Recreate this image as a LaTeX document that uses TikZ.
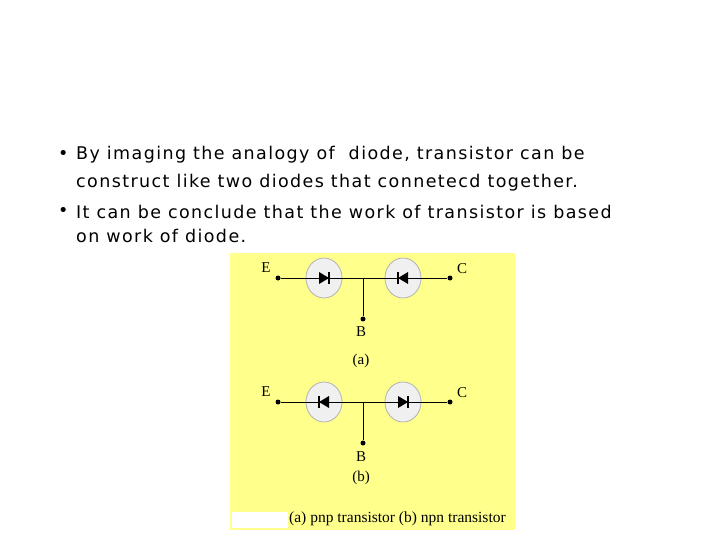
\documentclass[tikz,border=0pt]{standalone}
\usepackage{fontspec}
\usetikzlibrary{shapes.geometric}
\setmainfont{DejaVu Sans}[LetterSpace=8]
\newfontfamily\serf{Liberation Serif}
\begin{document}
\begin{tikzpicture}[x=1pt,y=-1pt,
  txt/.style={anchor=west,inner sep=0pt,font=\fontsize{17.5}{20}\selectfont},
  lbl/.style={inner sep=0pt,font=\serf\fontsize{15}{17}\selectfont},
  bubble/.style={ellipse,draw=gray!60,fill=gray!12,line width=0.8pt,minimum width=36pt,minimum height=40pt,inner sep=0pt},
  dot/.style={circle,fill=black,inner sep=0pt,minimum size=5pt}]
\useasboundingbox (0,0) rectangle (720,540);
\fill[white] (0,0) rectangle (720,540);
\fill[fill={rgb,255:red,255;green,255;blue,140}] (230,253) rectangle (515,530);
\node[txt] (b1) at (58,155) {•};
\node[txt] (l1) at (76,155) {By imaging the analogy of\ \ diode, transistor can be};
\node[txt] (l2) at (76,183) {construct like two diodes that connetecd together.};
\node[txt] (b2) at (58,212) {•};
\node[txt] (l3) at (76,212) {It can be conclude that the work of transistor is based};
\node[txt] (l4) at (76,236) {on work of diode.};
% circuits
\foreach \yy/\nm/\dira/\dirb in {278/a/1/-1,402/b/-1/1}{
  \node[bubble] (d1\nm) at (324,\yy) {};
  \node[bubble] (d2\nm) at (403,\yy) {};
  \node[dot] (e\nm) at (278,\yy) {};
  \node[dot] (c\nm) at (450,\yy) {};
  \coordinate (j\nm) at (363,\yy);
  \draw[line width=0.9pt] (e\nm) -- (c\nm);
  \fill (324-5*\dira,\yy-6) -- (324+5*\dira,\yy) -- (324-5*\dira,\yy+6) -- cycle;
  \draw[line width=1.2pt] (324+5*\dira,\yy-6) -- (324+5*\dira,\yy+6);
  \fill (403-5*\dirb,\yy-6) -- (403+5*\dirb,\yy) -- (403-5*\dirb,\yy+6) -- cycle;
  \draw[line width=1.2pt] (403+5*\dirb,\yy-6) -- (403+5*\dirb,\yy+6);
  \node[lbl] (E\nm) at (266,\yy-10) {E};
  \node[lbl] (C\nm) at (462,\yy-9) {C};
}
\node[dot] (ba) at (363,319) {};
\node[dot] (bb) at (363,443) {};
\draw[line width=0.9pt] (ja) -- (ba);
\draw[line width=0.9pt] (jb) -- (bb);
\node[lbl] (Ba) at (361,332) {B};
\node[lbl] (Bb) at (361,457) {B};
\node[lbl] (ca) at (361,361) {(a)};
\node[lbl] (cb) at (361,478) {(b)};
\fill[white] (232,512) rectangle (288,528);
\node[lbl,anchor=west,font=\serf\fontsize{15.5}{17}\selectfont] (cap) at (289,519) {(a) pnp transistor (b) npn transistor};
\end{tikzpicture}
\end{document}
